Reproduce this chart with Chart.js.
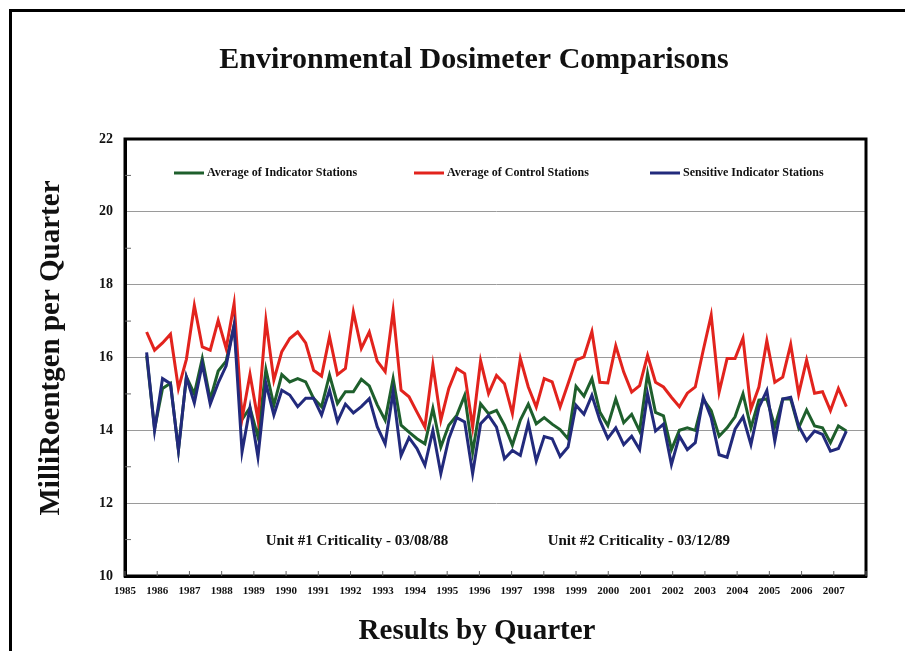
<!DOCTYPE html>
<html>
<head>
<meta charset="utf-8">
<title>Environmental Dosimeter Comparisons</title>
<script src="https://cdn.jsdelivr.net/npm/chart.js@4.4.1/dist/chart.umd.min.js"></script>
<style>
  html, body { margin: 0; padding: 0; background: #fff; }
  #wrap { position: relative; width: 905px; height: 651px; overflow: hidden; }
  #frame { position: absolute; left: 9px; top: 9px; width: 1000px; height: 1000px;
           border-left: 3px solid #000; border-top: 3px solid #000; }
  canvas { position: absolute; left: 0; top: 0; }
</style>
</head>
<body>
<div id="wrap">
  <div id="frame"></div>
  <canvas id="myChart"></canvas>
</div>
<script>
// quarterly readings, 1985 Q3 .. 2007 Q3
const firstYear = 1985, firstQuarter = 3;

const indicatorAvg = [
  16.05, 14.05, 15.15, 15.29, 13.46, 15.47, 15.00, 15.97, 14.85, 15.63,
  15.90, 16.87, 14.30, 14.62, 13.82, 15.67, 14.69, 15.53, 15.33, 15.42,
  15.33, 14.88, 14.65, 15.52, 14.74, 15.06, 15.06, 15.40, 15.22, 14.70,
  14.28, 15.42, 14.14, 13.95, 13.77, 13.63, 14.60, 13.54, 14.14, 14.41,
  14.96, 13.40, 14.73, 14.46, 14.55, 14.14, 13.59, 14.28, 14.72, 14.18,
  14.35, 14.17, 14.02, 13.77, 15.21, 14.94, 15.42, 14.50, 14.13, 14.86,
  14.21, 14.44, 13.98, 15.56, 14.49, 14.40, 13.47, 14.00, 14.07, 14.00,
  14.86, 14.54, 13.84, 14.07, 14.37, 15.00, 14.07, 14.83, 14.86, 14.10,
  14.86, 14.86, 14.07, 14.56, 14.12, 14.07, 13.66, 14.12, 13.98
];

const controlAvg = [
  16.70, 16.20, 16.40, 16.64, 15.15, 15.95, 17.43, 16.29, 16.20, 17.02,
  16.25, 17.48, 14.32, 15.54, 14.29, 17.02, 15.38, 16.16, 16.52, 16.70,
  16.40, 15.65, 15.49, 16.57, 15.53, 15.70, 17.25, 16.25, 16.70, 15.90,
  15.61, 17.28, 15.10, 14.92, 14.50, 14.09, 15.79, 14.28, 15.15, 15.70,
  15.56, 14.09, 15.91, 15.01, 15.51, 15.28, 14.46, 15.97, 15.19, 14.64,
  15.42, 15.33, 14.64, 15.28, 15.93, 16.02, 16.71, 15.32, 15.30, 16.32,
  15.60, 15.05, 15.23, 16.06, 15.32, 15.19, 14.91, 14.65, 15.02, 15.19,
  16.20, 17.16, 15.05, 15.97, 15.97, 16.53, 14.58, 15.19, 16.46, 15.32,
  15.46, 16.36, 15.00, 15.93, 15.02, 15.06, 14.54, 15.15, 14.65
];

const sensitiveInd = [
  16.14, 14.00, 15.42, 15.28, 13.45, 15.46, 14.75, 15.82, 14.72, 15.30,
  15.77, 16.89, 13.41, 14.62, 13.27, 15.29, 14.42, 15.10, 14.97, 14.65,
  14.88, 14.88, 14.42, 15.10, 14.24, 14.72, 14.48, 14.65, 14.87, 14.10,
  13.63, 15.05, 13.31, 13.80, 13.50, 13.04, 14.00, 12.81, 13.77, 14.35,
  14.23, 12.81, 14.18, 14.41, 14.09, 13.22, 13.45, 13.31, 14.20, 13.16,
  13.83, 13.77, 13.28, 13.54, 14.69, 14.44, 14.96, 14.28, 13.78, 14.07,
  13.61, 13.84, 13.47, 15.00, 13.98, 14.17, 13.06, 13.84, 13.47, 13.66,
  14.91, 14.35, 13.33, 13.26, 14.03, 14.37, 13.61, 14.63, 15.09, 13.70,
  14.86, 14.91, 14.12, 13.72, 13.98, 13.89, 13.43, 13.50, 13.98
];

const seriesNames = ['Average of Indicator Stations', 'Average of Control Stations', 'Sensitive Indicator Stations'];
const seriesColors = ['#1e5f2c', '#e2231d', '#222a7c'];
const notes = [
  { text: 'Unit #1 Criticality - 03/08/88', year: 1992.2 },
  { text: 'Unit #2 Criticality - 03/12/89', year: 2000.95 }
];
const chartTitle = 'Environmental Dosimeter Comparisons';
const xTitle = 'Results by Quarter';
const yTitle = 'MilliRoentgen per Quarter';

const quarters = indicatorAvg.map((_, i) => {
  const q = firstQuarter - 1 + i;
  return (firstYear + Math.floor(q / 4)) + ' Q' + (q % 4 + 1);
});

const serif = "'Liberation Serif', 'Times New Roman', serif";

function toPoints(values) {
  return values.map((v, i) => ({ x: i, y: v }));
}

// titles, plot box, inner ticks, legend inside the plot, the two notes
const extras = {
  id: 'extras',
  afterDraw(chart) {
    const { ctx, chartArea: a, scales } = chart;
    ctx.save();
    ctx.strokeStyle = '#000';
    ctx.lineWidth = 3;
    ctx.strokeRect(a.left, a.top, a.right - a.left, a.bottom - a.top);

    ctx.lineWidth = 1;
    ctx.beginPath();
    scales.y.ticks.forEach(t => {
      if (t.value % 2 !== 0) {
        const y = scales.y.getPixelForValue(t.value);
        ctx.moveTo(a.left, y); ctx.lineTo(a.left + 6, y);
      }
    });
    scales.x.ticks.forEach(t => {
      const x = scales.x.getPixelForValue(t.value);
      ctx.moveTo(x, a.bottom); ctx.lineTo(x, a.bottom - 5);
    });
    ctx.strokeStyle = '#666';
    ctx.stroke();

    const legendX = [49, 289, 525];
    const ly = a.top + 34;
    ctx.font = 'bold 12px ' + serif;
    ctx.textBaseline = 'middle';
    ctx.textAlign = 'left';
    chart.data.datasets.forEach((ds, k) => {
      const x0 = a.left + legendX[k];
      ctx.strokeStyle = ds.borderColor;
      ctx.lineWidth = 3;
      ctx.beginPath();
      ctx.moveTo(x0, ly); ctx.lineTo(x0 + 30, ly);
      ctx.stroke();
      ctx.fillStyle = '#111';
      ctx.fillText(ds.label, x0 + 33, ly);
    });

    ctx.font = 'bold 15px ' + serif;
    ctx.textAlign = 'center';
    notes.forEach(n => {
      ctx.fillText(n.text, scales.x.getPixelForValue(n.year), scales.y.getPixelForValue(10.95));
    });

    ctx.fillStyle = '#111';
    ctx.font = 'bold 30px ' + serif;
    ctx.fillText(chartTitle, 474, 60);
    ctx.font = 'bold 29px ' + serif;
    ctx.fillText(xTitle, 477, 632);
    ctx.translate(52, 348);
    ctx.rotate(-Math.PI / 2);
    ctx.fillText(yTitle, 0, 0);
    ctx.restore();
  }
};

const ctx = document.getElementById('myChart').getContext('2d');
new Chart(ctx, {
  type: 'line',
  data: {
    labels: quarters,
    datasets: [
      { label: seriesNames[0], data: toPoints(indicatorAvg), borderColor: seriesColors[0], order: 2 },
      { label: seriesNames[1], data: toPoints(controlAvg), borderColor: seriesColors[1], order: 1 },
      { label: seriesNames[2], data: toPoints(sensitiveInd), borderColor: seriesColors[2], order: 0 }
    ].map(d => Object.assign(d, { xAxisID: 'xi', borderWidth: 3, pointRadius: 0, tension: 0, fill: false }))
  },
  options: {
    responsive: true,
    maintainAspectRatio: false,
    animation: false,
    layout: { padding: { left: 30, right: 39, top: 139, bottom: 0 } },
    plugins: {
      legend: { display: false },
      tooltip: { enabled: false },
      title: { display: false }
    },
    scales: {
      xi: {
        type: 'linear',
        display: false,
        min: -2.72,
        max: 90.47
      },
      x: {
        type: 'linear',
        position: 'bottom',
        min: 1985,
        max: 2008,
        afterFit: s => { s.height = 75; },
        grid: { display: false, drawTicks: false },
        border: { color: '#000', width: 3 },
        ticks: {
          stepSize: 1,
          autoSkip: false,
          maxRotation: 0,
          padding: 9,
          color: '#111',
          font: { family: serif, size: 11, weight: 'bold' },
          callback: v => (v === 2008 ? '' : String(v))
        }
      },
      y: {
        min: 10,
        max: 22,
        afterFit: s => { s.width = 95; },
        grid: {
          drawTicks: false,
          color: c => (c.tick && c.tick.value % 2 === 0 ? '#9a9a9a' : 'rgba(0,0,0,0)')
        },
        border: { color: '#000', width: 3 },
        ticks: {
          stepSize: 1,
          autoSkip: false,
          padding: 12,
          color: '#111',
          font: { family: serif, size: 14, weight: 'bold' },
          callback: v => (v % 2 === 0 ? String(v) : '')
        }
      }
    }
  },
  plugins: [extras]
});
</script>
</body>
</html>
